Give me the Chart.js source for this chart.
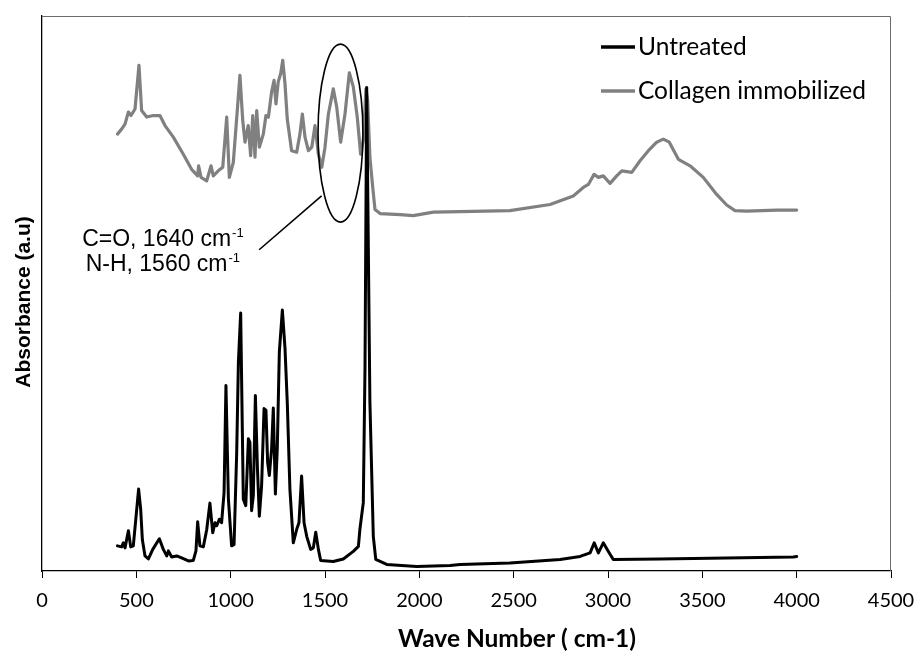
<!DOCTYPE html>
<html>
<head>
<meta charset="utf-8">
<script src="https://cdn.jsdelivr.net/npm/chart.js@4.4.1/dist/chart.umd.min.js"></script>
<style>
  html, body { margin: 0; padding: 0; background: #fff; }
  #wrap { width: 916px; height: 651px; }
</style>
</head>
<body>
<div id="wrap"><canvas id="ftir"></canvas></div>
<script>
// FTIR spectra, values (wave number in cm-1, absorbance a.u.)
const untreatedWn = [400, 422, 431, 440, 458, 470, 484, 512, 523, 532, 546, 564, 587, 622, 643, 661, 670, 687, 714, 740,
  776, 802, 816, 825, 837, 855, 873, 890, 905, 917, 926, 940, 952, 965, 975, 988, 1005, 1018, 1032, 1041,
  1053, 1067, 1080, 1094, 1102, 1111, 1120, 1131, 1142, 1152, 1164, 1177, 1187, 1196, 1205, 1217, 1226, 1237, 1247, 1258,
  1274, 1288, 1300, 1314, 1332, 1350, 1362, 1376, 1389, 1403, 1424, 1438, 1451, 1465, 1477, 1544, 1597, 1650, 1677, 1685,
  1703, 1712, 1721, 1738, 1756, 1769, 1827, 1986, 2163, 2216, 2480, 2746, 2852, 2905, 2927, 2949, 2975, 3002, 3028, 3276,
  3629, 3982, 4000];
const untreatedAbs = [0.050, 0.048, 0.056, 0.046, 0.080, 0.048, 0.050, 0.163, 0.123, 0.062, 0.030, 0.024, 0.043, 0.064, 0.043, 0.030, 0.040, 0.028, 0.030, 0.026,
  0.020, 0.021, 0.040, 0.098, 0.050, 0.048, 0.082, 0.135, 0.076, 0.096, 0.090, 0.103, 0.096, 0.156, 0.369, 0.143, 0.050, 0.053, 0.236, 0.416,
  0.513, 0.143, 0.130, 0.263, 0.256, 0.120, 0.150, 0.349, 0.203, 0.109, 0.170, 0.323, 0.320, 0.216, 0.190, 0.243, 0.324, 0.153, 0.243, 0.436,
  0.519, 0.443, 0.336, 0.163, 0.056, 0.083, 0.096, 0.189, 0.096, 0.069, 0.043, 0.046, 0.077, 0.043, 0.021, 0.019, 0.024, 0.039, 0.049, 0.083,
  0.136, 0.403, 0.962, 0.336, 0.069, 0.023, 0.013, 0.009, 0.011, 0.013, 0.016, 0.023, 0.029, 0.036, 0.056, 0.036, 0.056, 0.039, 0.023, 0.024,
  0.026, 0.028, 0.029];

const collagenWn = [400, 422, 440, 458, 472, 493, 514, 528, 555, 590, 625, 652, 696, 749, 793, 825, 830, 843, 873, 896,
  908, 934, 958, 979, 993, 1014, 1035, 1049, 1064, 1076, 1093, 1106, 1117, 1129, 1138, 1152, 1173, 1187, 1200, 1217,
  1230, 1240, 1252, 1265, 1276, 1288, 1300, 1323, 1350, 1367, 1380, 1394, 1412, 1430, 1447, 1465, 1483, 1500, 1518, 1544,
  1562, 1583, 1606, 1629, 1650, 1671, 1689, 1703, 1717, 1726, 1738, 1753, 1765, 1792, 1898, 1968, 2074, 2216, 2480, 2693,
  2816, 2869, 2896, 2926, 2949, 2975, 3011, 3046, 3073, 3126, 3170, 3214, 3258, 3293, 3325, 3373, 3435, 3505, 3576, 3629,
  3673, 3735, 3894, 4000];
const collagenAbs = [0.869, 0.879, 0.889, 0.913, 0.906, 0.919, 1.006, 0.916, 0.903, 0.906, 0.906, 0.886, 0.863, 0.829, 0.799, 0.786, 0.806, 0.783, 0.776, 0.806,
  0.786, 0.796, 0.803, 0.903, 0.783, 0.813, 0.916, 0.986, 0.896, 0.853, 0.886, 0.826, 0.906, 0.823, 0.916, 0.843, 0.869, 0.906, 0.903, 0.953,
  0.976, 0.929, 0.973, 0.989, 1.016, 0.969, 0.899, 0.836, 0.833, 0.869, 0.909, 0.863, 0.836, 0.843, 0.886, 0.829, 0.803, 0.843, 0.909, 0.959,
  0.923, 0.853, 0.909, 0.991, 0.963, 0.903, 0.829, 0.856, 0.959, 0.936, 0.823, 0.763, 0.719, 0.711, 0.709, 0.707, 0.714, 0.715, 0.717, 0.729,
  0.746, 0.763, 0.769, 0.789, 0.783, 0.786, 0.771, 0.786, 0.796, 0.793, 0.816, 0.836, 0.853, 0.859, 0.853, 0.819, 0.806, 0.783, 0.749, 0.728,
  0.717, 0.716, 0.718, 0.718];

const xTicks = [0, 500, 1000, 1500, 2000, 2500, 3000, 3500, 4000, 4500];
const xTitle = 'Wave Number ( cm-1)';
const yTitle = 'Absorbance (a.u)';
const calloutLines = [['C=O, 1640 cm', '-1'], ['N-H, 1560 cm', '-1']];

function toPoints(xs, ys) {
  return xs.map((v, i) => ({ x: v, y: ys[i] }));
}

// box round the plot area (top and right edges)
const frame = {
  id: 'frame',
  beforeDatasetsDraw(chart) {
    const { ctx, chartArea: a } = chart;
    ctx.save();
    ctx.strokeStyle = '#6b6b6b';
    ctx.lineWidth = 1;
    ctx.beginPath();
    ctx.moveTo(a.left, a.top + 0.5);
    ctx.lineTo(a.right - 0.5, a.top + 0.5);
    ctx.lineTo(a.right - 0.5, a.bottom);
    ctx.stroke();
    ctx.restore();
  }
};

// axis titles, placed like the original (off-centre)
const axisTitles = {
  id: 'axisTitles',
  afterDraw(chart) {
    const { ctx } = chart;
    ctx.save();
    ctx.fillStyle = '#000';
    ctx.textAlign = 'center';
    ctx.textBaseline = 'middle';
    ctx.font = 'bold 24.5px Lato, "Open Sans", sans-serif';
    ctx.fillText(xTitle, 517, 639);
    ctx.translate(24, 302);
    ctx.rotate(-Math.PI / 2);
    ctx.font = 'bold 21px "Liberation Sans", Arial, sans-serif';
    ctx.fillText(yTitle, 0, 0);
    ctx.restore();
  }
};

// ellipse round the amide bands with its label
const callout = {
  id: 'callout',
  afterDatasetsDraw(chart) {
    const { ctx, scales: { x, y } } = chart;
    const cx = x.getPixelForValue(1582), cy = y.getPixelForValue(0.871);
    const rx = x.getPixelForValue(1582 + 119) - cx;
    const ry = cy - y.getPixelForValue(0.871 + 0.177);
    ctx.save();
    ctx.strokeStyle = '#000';
    ctx.lineWidth = 1.6;
    ctx.beginPath();
    ctx.ellipse(cx, cy, rx, ry, 0, 0, Math.PI * 2);
    ctx.stroke();
    ctx.beginPath();
    ctx.moveTo(x.getPixelForValue(1151), y.getPixelForValue(0.639));
    ctx.lineTo(x.getPixelForValue(1482), y.getPixelForValue(0.746));
    ctx.stroke();

    const tx = x.getPixelForValue(638);
    const baselines = [0.646, 0.596];
    ctx.fillStyle = '#000';
    ctx.textBaseline = 'alphabetic';
    ctx.textAlign = 'left';
    calloutLines.forEach((ln, i) => {
      const by = y.getPixelForValue(baselines[i]);
      ctx.font = '23px "Liberation Sans", Arial, sans-serif';
      const w1 = ctx.measureText(ln[0]).width;
      ctx.font = '13px "Liberation Sans", Arial, sans-serif';
      const w2 = ctx.measureText(ln[1]).width;
      const left = tx - (w1 + w2) / 2;
      ctx.font = '23px "Liberation Sans", Arial, sans-serif';
      ctx.fillText(ln[0], left, by);
      ctx.font = '13px "Liberation Sans", Arial, sans-serif';
      ctx.fillText(ln[1], left + w1 + 1, by - 9);
    });
    ctx.restore();
  }
};

// legend inside the plot, top right
const insideLegend = {
  id: 'insideLegend',
  afterDraw(chart) {
    const { ctx } = chart;
    const rows = [47, 91];
    ctx.save();
    ctx.font = '24.5px Lato, "Open Sans", sans-serif';
    ctx.textBaseline = 'middle';
    chart.data.datasets.forEach((ds, i) => {
      ctx.strokeStyle = ds.borderColor;
      ctx.lineWidth = 3.5;
      ctx.beginPath();
      ctx.moveTo(601, rows[i]);
      ctx.lineTo(635, rows[i]);
      ctx.stroke();
      ctx.fillStyle = '#000';
      ctx.fillText(ds.label, 638, rows[i]);
    });
    ctx.restore();
  }
};

new Chart(document.getElementById('ftir'), {
  type: 'line',
  data: {
    datasets: [
      {
        label: 'Untreated',
        data: toPoints(untreatedWn, untreatedAbs),
        borderColor: '#000000',
        borderWidth: 3,
        borderJoinStyle: 'round',
        borderCapStyle: 'round',
        pointRadius: 0,
        tension: 0
      },
      {
        label: 'Collagen immobilized',
        data: toPoints(collagenWn, collagenAbs),
        borderColor: '#808080',
        borderWidth: 3.2,
        borderJoinStyle: 'round',
        borderCapStyle: 'round',
        pointRadius: 0,
        tension: 0
      }
    ]
  },
  options: {
    responsive: true,
    maintainAspectRatio: false,
    animation: false,
    layout: { padding: { left: 42, right: 25, top: 16, bottom: 27 } },
    plugins: {
      legend: { display: false },
      tooltip: { enabled: false }
    },
    scales: {
      x: {
        type: 'linear',
        min: 0,
        max: 4500,
        afterBuildTicks: (s) => { s.ticks = xTicks.map(v => ({ value: v })); },
        grid: { drawOnChartArea: false, drawTicks: true, tickLength: 7, color: '#000', lineWidth: 1 },
        border: { display: true, color: '#000', width: 1.3 },
        ticks: {
          color: '#000',
          padding: 0,
          maxRotation: 0,
          font: { family: 'Lato, "Open Sans", sans-serif', size: 20, lineHeight: 2.3 },
          callback: (v) => String(v)
        }
      },
      y: {
        min: 0,
        max: 1.104,
        grid: { display: false, drawTicks: false },
        border: { display: true, color: '#000', width: 1.3 },
        ticks: { display: false, padding: 0 }
      }
    }
  },
  plugins: [frame, callout, axisTitles, insideLegend]
});
</script>
</body>
</html>
